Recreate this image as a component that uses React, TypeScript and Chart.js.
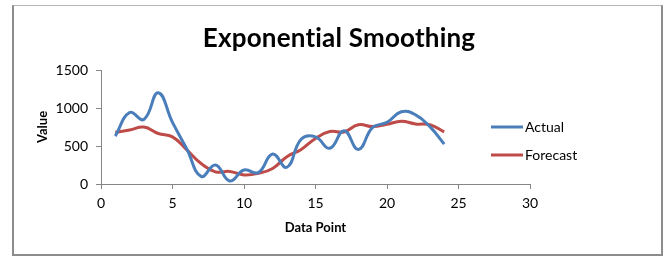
import React, { useEffect, useRef } from "react";
import { Chart, registerables } from "chart.js";

Chart.register(...registerables);

const dataPoints = [1, 2, 3, 4, 5, 6, 7, 8, 9, 10, 11, 12, 13, 14, 15, 16, 17, 18, 19, 20, 21, 22, 23, 24];
const actualValues = [630, 940, 850, 1200, 810, 460, 100, 250, 40, 185, 150, 395, 220, 590, 620, 470, 700, 455, 745, 810, 950, 910, 755, 525];
const forecastValues = [680, 710, 750, 665, 620, 450, 270, 160, 165, 120, 140, 205, 360, 455, 600, 690, 685, 780, 755, 785, 825, 790, 780, 685];
const seriesNames = ["Actual", "Forecast"];
const seriesColors = ["#4A7EBB", "#BE4B48"];
const chartTitle = "Exponential Smoothing";
const xTitle = "Data Point";
const yTitle = "Value";

const FONT = "Lato, 'DejaVu Sans', sans-serif";

const overlayPlugin = {
  id: "overlay",
  afterDraw(chart: any) {
    const ctx = chart.ctx;
    ctx.save();
    ctx.fillStyle = "#000";
    ctx.font = `bold 26px ${FONT}`;
    try {
      ctx.letterSpacing = "0.2px";
    } catch (e) {}
    ctx.textAlign = "center";
    ctx.textBaseline = "alphabetic";
    ctx.fillText(chartTitle, 339, 47);
    try {
      ctx.letterSpacing = "0px";
    } catch (e) {}
    const ys = [127, 155];
    seriesNames.forEach((name, i) => {
      ctx.strokeStyle = seriesColors[i];
      ctx.lineWidth = 3;
      ctx.beginPath();
      ctx.moveTo(491, ys[i]);
      ctx.lineTo(523, ys[i]);
      ctx.stroke();
      ctx.fillStyle = "#000";
      ctx.font = `14px ${FONT}`;
      ctx.textAlign = "left";
      ctx.textBaseline = "middle";
      ctx.fillText(name, 525, ys[i]);
    });
    ctx.restore();
  },
};

export default function App() {
  const ref = useRef<HTMLCanvasElement>(null);
  useEffect(() => {
    if (!ref.current) return;
    const chart = new Chart(ref.current, {
      type: "line",
      data: {
        datasets: [
          {
            label: seriesNames[0],
            data: dataPoints.map((x, i) => ({ x, y: actualValues[i] })),
            borderColor: seriesColors[0],
            backgroundColor: seriesColors[0],
            borderWidth: 3,
            pointRadius: 0,
            tension: 0.45,
          },
          {
            label: seriesNames[1],
            data: dataPoints.map((x, i) => ({ x, y: forecastValues[i] })),
            borderColor: seriesColors[1],
            backgroundColor: seriesColors[1],
            borderWidth: 3,
            pointRadius: 0,
            tension: 0.45,
          },
        ],
      },
      options: {
        animation: false,
        responsive: false,
        maintainAspectRatio: false,
        layout: { padding: { left: 13, right: 141, top: 70, bottom: 18 } },
        plugins: {
          legend: { display: false },
          title: { display: false },
          tooltip: { enabled: false },
        },
        scales: {
          x: {
            type: "linear",
            min: 0,
            max: 30,
            afterFit: (s: any) => {
              s.height = 55;
            },
            ticks: {
              stepSize: 5,
              color: "#000",
              font: { family: FONT, size: 14 },
              padding: 6,
              callback: (v: any) => String(v),
            },
            grid: { drawOnChartArea: false, drawTicks: true, tickLength: 5, color: "#868686" },
            border: { display: true, color: "#868686" },
            title: {
              display: true,
              text: xTitle,
              color: "#000",
              font: { family: FONT, size: 13, weight: "bold" },
              padding: { top: 0, bottom: 3 },
            },
          },
          y: {
            min: 0,
            max: 1500,
            afterFit: (s: any) => {
              s.width = 88;
            },
            ticks: {
              stepSize: 500,
              color: "#000",
              font: { family: FONT, size: 14 },
              padding: 8,
              callback: (v: any) => String(v),
            },
            grid: { drawOnChartArea: false, drawTicks: true, tickLength: 5, color: "#868686" },
            border: { display: true, color: "#868686" },
            title: {
              display: true,
              text: yTitle,
              color: "#000",
              font: { family: FONT, size: 13, weight: "bold" },
              padding: { top: 22, bottom: 0 },
            },
          },
        },
      },
      plugins: [overlayPlugin],
    } as any);
    return () => chart.destroy();
  }, []);

  return (
    <div style={{ position: "absolute", left: 0, top: 0, width: 671, height: 257, background: "#fff" }}>
      <canvas ref={ref} width={671} height={257} style={{ position: "absolute", left: 0, top: 0, width: 671, height: 257 }} />
      <div
        style={{
          position: "absolute",
          left: 12,
          top: 5,
          width: 651,
          height: 251,
          boxSizing: "border-box",
          borderLeft: "2px solid #8c8c8c",
          borderTop: "1px solid #b4b4b4",
          borderRight: "2px solid #8c8c8c",
          borderBottom: "2px solid #8c8c8c",
          pointerEvents: "none",
        }}
      />
    </div>
  );
}
